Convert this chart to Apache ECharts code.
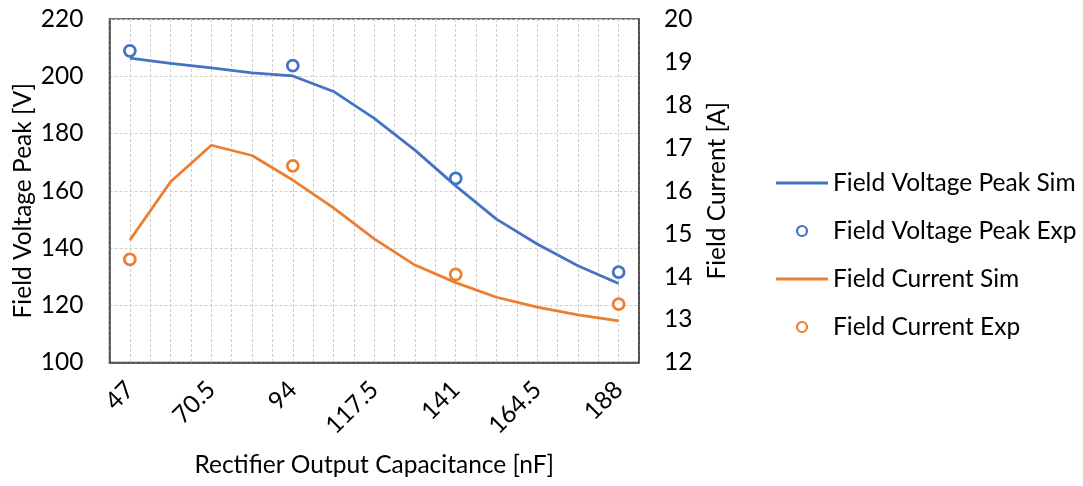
<!DOCTYPE html>
<html>
<head>
<meta charset="utf-8">
<script src="https://cdn.jsdelivr.net/npm/echarts@6/dist/echarts.min.js"></script>
<style>
html,body{margin:0;padding:0;background:#fff;}
#chart{width:1083px;height:486px;}
</style>
</head>
<body>
<div id="chart"></div>
<script>
const simCapacitance = [47, 58.75, 70.5, 82.25, 94, 105.75, 117.5, 129.25, 141, 152.75, 164.5, 176.25, 188];
const voltageSim = [206.3, 204.5, 202.9, 201.2, 200.1, 194.7, 185.3, 174.2, 161.7, 150.1, 141.4, 133.8, 127.6];
const currentSim = [14.85, 16.21, 17.06, 16.82, 16.25, 15.6, 14.88, 14.27, 13.86, 13.52, 13.29, 13.11, 12.97];
const expCapacitance = [47, 94, 141, 188];
const voltageExp = [208.9, 203.7, 164.3, 131.6];
const currentExp = [14.40, 16.58, 14.05, 13.36];
const xTickLabels = [47, 70.5, 94, 117.5, 141, 164.5, 188];

const FONT = 'Lato';
const FS = 24.5;
const BLUE = '#4472C4';
const ORANGE = '#ED7D31';
const pair = (xs, ys) => xs.map((x, i) => [x, ys[i]]);
const LINE_ICON = 'path://M0,0L52,0L52,3L0,3Z';

const chart = echarts.init(document.getElementById('chart'), null, {renderer: 'canvas'});
chart.setOption({
  animation: false,
  textStyle: {fontFamily: FONT},
  grid: {left: 109.5, right: 444, top: 19, bottom: 123.5, containLabel: false,
         show: true, borderColor: '#404040', borderWidth: 1.5, backgroundColor: 'transparent'},
  legend: {
    orient: 'vertical', left: 776, top: 169, padding: 0,
    itemWidth: 52, itemHeight: 10, itemGap: 20,
    textStyle: {fontFamily: FONT, fontSize: FS, color: '#000', lineHeight: 28},
    data: [
      {name: 'Field Voltage Peak Sim', icon: LINE_ICON, itemStyle: {color: BLUE}},
      {name: 'Field Voltage Peak Exp', icon: 'circle', itemStyle: {color: '#fff', borderColor: BLUE, borderWidth: 2.2}},
      {name: 'Field Current Sim', icon: LINE_ICON, itemStyle: {color: ORANGE}},
      {name: 'Field Current Exp', icon: 'circle', itemStyle: {color: '#fff', borderColor: ORANGE, borderWidth: 2.2}}
    ]
  },
  xAxis: {
    type: 'value', min: 41.125, max: 193.875, interval: 5.875,
    name: 'Rectifier Output Capacitance [nF]', nameLocation: 'middle', nameGap: 90,
    nameTextStyle: {fontFamily: FONT, fontSize: FS, color: '#000'},
    axisLine: {show: true, lineStyle: {color: '#404040', width: 1.5}},
    axisTick: {show: false},
    splitLine: {show: true, lineStyle: {color: '#d0d0d0', type: [3, 2], width: 1}},
    axisLabel: {
      rotate: 45, margin: 23, fontFamily: FONT, fontSize: FS, color: '#000',
      formatter: function (v) {
        for (const t of xTickLabels) { if (Math.abs(v - t) < 1e-6) return String(t); }
        return '';
      }
    }
  },
  yAxis: [
    {
      type: 'value', min: 100, max: 220, interval: 20, position: 'left',
      name: 'Field Voltage Peak [V]', nameLocation: 'middle', nameGap: 74, nameRotate: 90,
      nameTextStyle: {fontFamily: FONT, fontSize: FS, color: '#000', padding: [0, 20, 0, 0]},
      axisLine: {show: true, lineStyle: {color: '#404040', width: 1.5}},
      axisTick: {show: false},
      splitLine: {show: true, lineStyle: {color: '#d0d0d0', type: [3, 2], width: 1}},
      axisLabel: {margin: 26, fontFamily: FONT, fontSize: FS, color: '#000'}
    },
    {
      type: 'value', min: 12, max: 20, interval: 1, position: 'right',
      name: 'Field Current [A]', nameLocation: 'middle', nameGap: 66, nameRotate: 90,
      nameTextStyle: {fontFamily: FONT, fontSize: FS, color: '#000'},
      axisLine: {show: true, lineStyle: {color: '#404040', width: 1.5}},
      axisTick: {show: false},
      splitLine: {show: false},
      axisLabel: {margin: 25, fontFamily: FONT, fontSize: FS, color: '#000'}
    }
  ],
  series: [
    {name: 'Field Voltage Peak Sim', type: 'line', yAxisIndex: 0, symbol: 'none',
     data: pair(simCapacitance, voltageSim), lineStyle: {color: BLUE, width: 2.75}, itemStyle: {color: BLUE}, z: 3},
    {name: 'Field Voltage Peak Exp', type: 'scatter', yAxisIndex: 0, symbol: 'circle', symbolSize: 11,
     data: pair(expCapacitance, voltageExp), itemStyle: {color: '#fff', borderColor: BLUE, borderWidth: 2.75, opacity: 1}, z: 4},
    {name: 'Field Current Sim', type: 'line', yAxisIndex: 1, symbol: 'none',
     data: pair(simCapacitance, currentSim), lineStyle: {color: ORANGE, width: 2.75}, itemStyle: {color: ORANGE}, z: 3},
    {name: 'Field Current Exp', type: 'scatter', yAxisIndex: 1, symbol: 'circle', symbolSize: 11,
     data: pair(expCapacitance, currentExp), itemStyle: {color: '#fff', borderColor: ORANGE, borderWidth: 2.75, opacity: 1}, z: 4}
  ]
});
</script>
</body>
</html>
